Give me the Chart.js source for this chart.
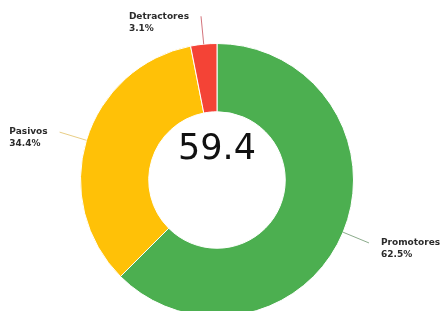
<!DOCTYPE html>
<html>
<head>
  <meta charset="utf-8">
  <script src="https://cdn.jsdelivr.net/npm/chart.js@4.4.0/dist/chart.umd.min.js"></script>
  <style>
    html, body { margin: 0; padding: 0; background: #fff; overflow: hidden; }
    #wrap { width: 444px; height: 330px; }
  </style>
</head>
<body>
  <div id="wrap">
    <canvas id="npsChart" width="444" height="330"></canvas>
  </div>
  <script>
  // NPS breakdown
  const categories = ['Promotores', 'Pasivos', 'Detractores'];
  const percents = [62.5, 34.4, 3.1];
  const sliceColors = ['#4caf50', '#ffc107', '#f44336'];
  const lineColors = ['rgba(110,150,110,0.8)', 'rgba(230,200,120,0.9)', 'rgba(200,80,90,0.8)'];
  const centerValue = '59.4';

  // labels outside the ring with a short leader line
  const outsideLabels = {
    id: 'outsideLabels',
    afterDraw(chart) {
      const ctx = chart.ctx;
      const meta = chart.getDatasetMeta(0);
      ctx.save();
      ctx.font = 'bold 9px "DejaVu Sans"';
      ctx.textBaseline = 'middle';
      meta.data.forEach((arc, i) => {
        const p = arc.getProps(['x', 'y', 'startAngle', 'endAngle', 'outerRadius'], true);
        const mid = (p.startAngle + p.endAngle) / 2;
        const cos = Math.cos(mid), sin = Math.sin(mid);
        const x0 = p.x + cos * p.outerRadius, y0 = p.y + sin * p.outerRadius;
        const x1 = p.x + cos * (p.outerRadius + 28), y1 = p.y + sin * (p.outerRadius + 28);
        ctx.strokeStyle = lineColors[i];
        ctx.lineWidth = 1;
        ctx.beginPath();
        ctx.moveTo(x0, y0);
        ctx.lineTo(x1, y1);
        ctx.stroke();

        const lines = [categories[i], percents[i].toFixed(1) + '%'];
        const w = Math.max(...lines.map(t => ctx.measureText(t).width));
        const tx = cos >= 0 ? x1 + 12 : x1 - 12 - w;
        ctx.fillStyle = '#2b2b2b';
        ctx.textAlign = 'left';
        lines.forEach((t, k) => ctx.fillText(t, tx, y1 + k * 12));
      });
      ctx.restore();
    }
  };

  const centerText = {
    id: 'centerText',
    afterDraw(chart) {
      const arc = chart.getDatasetMeta(0).data[0];
      if (!arc) return;
      const ctx = chart.ctx;
      ctx.save();
      ctx.font = '35px "DejaVu Sans"';
      ctx.fillStyle = '#111';
      ctx.textAlign = 'center';
      ctx.textBaseline = 'middle';
      ctx.fillText(centerValue, arc.x, arc.y - 30);
      ctx.restore();
    }
  };

  new Chart(document.getElementById('npsChart'), {
    type: 'doughnut',
    data: {
      labels: categories,
      datasets: [{
        data: percents,
        backgroundColor: sliceColors,
        borderColor: '#fff',
        borderWidth: 1,
        hoverOffset: 0
      }]
    },
    options: {
      responsive: false,
      animation: false,
      cutout: '50%',
      layout: { padding: { top: 43, bottom: 13, left: 80, right: 90 } },
      plugins: {
        legend: { display: false },
        tooltip: { enabled: false }
      }
    },
    plugins: [outsideLabels, centerText]
  });
  </script>
</body>
</html>
